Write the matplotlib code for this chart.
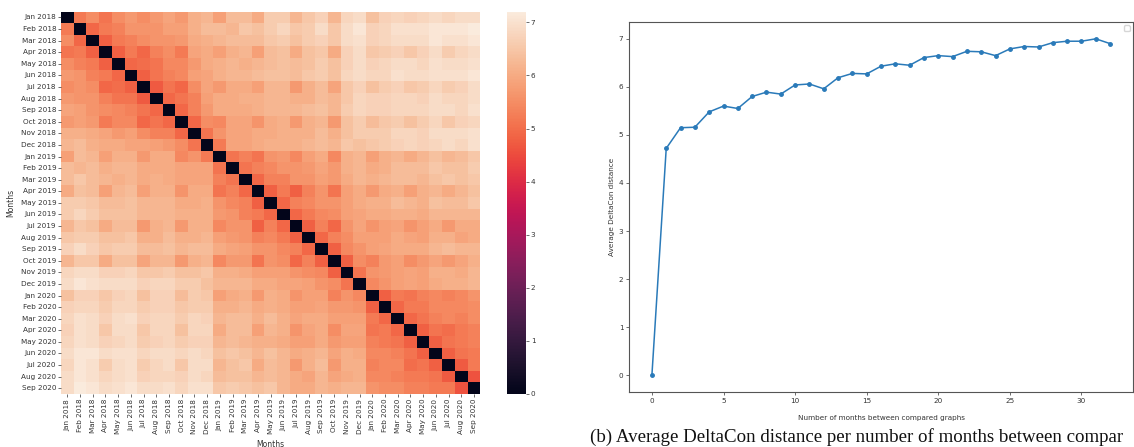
import numpy as np
import matplotlib
matplotlib.use("Agg")
import matplotlib.pyplot as plt
import seaborn as sns

months = ["Jan 2018", "Feb 2018", "Mar 2018", "Apr 2018", "May 2018", "Jun 2018",
          "Jul 2018", "Aug 2018", "Sep 2018", "Oct 2018", "Nov 2018", "Dec 2018",
          "Jan 2019", "Feb 2019", "Mar 2019", "Apr 2019", "May 2019", "Jun 2019",
          "Jul 2019", "Aug 2019", "Sep 2019", "Oct 2019", "Nov 2019", "Dec 2019",
          "Jan 2020", "Feb 2020", "Mar 2020", "Apr 2020", "May 2020", "Jun 2020",
          "Jul 2020", "Aug 2020", "Sep 2020"]

# lower triangle of the DeltaCon distance matrix (row i, columns 0..i-1)
lower = [
    [],
    [5.2],
    [5.5, 4.9],
    [5.1, 5.2, 4.8],
    [5.5, 5.3, 5.2, 4.8],
    [5.7, 5.6, 5.3, 5.2, 4.9],
    [5.5, 5.6, 5.5, 4.9, 5.0, 4.8],
    [5.7, 5.6, 5.6, 5.3, 5.1, 5.1, 4.7],
    [5.9, 5.8, 5.6, 5.5, 5.4, 5.3, 5.1, 4.9],
    [5.7, 5.8, 5.7, 5.2, 5.4, 5.4, 4.9, 5.1, 4.9],
    [6.1, 6.1, 6.0, 5.9, 5.7, 5.8, 5.5, 5.3, 5.3, 4.9],
    [6.2, 6.3, 6.1, 6.0, 6.0, 5.9, 5.9, 5.8, 5.7, 5.5, 5.1],
    [5.8, 6.3, 6.2, 5.8, 6.1, 6.1, 5.7, 6.0, 6.0, 5.4, 5.6, 5.2],
    [6.3, 6.2, 6.3, 6.1, 6.2, 6.2, 6.0, 6.0, 6.0, 5.9, 5.9, 5.9, 5.1],
    [6.3, 6.5, 6.3, 6.2, 6.1, 6.2, 6.0, 6.1, 6.0, 5.9, 5.9, 5.9, 5.3, 5.1],
    [6.0, 6.4, 6.3, 5.8, 6.2, 6.3, 5.8, 6.1, 6.1, 5.6, 6.0, 6.0, 5.1, 5.3, 4.9],
    [6.6, 6.6, 6.5, 6.3, 6.3, 6.4, 6.2, 6.2, 6.2, 6.0, 6.0, 6.1, 5.6, 5.4, 5.3, 4.8],
    [6.6, 6.8, 6.6, 6.4, 6.4, 6.4, 6.2, 6.2, 6.2, 6.1, 6.1, 6.1, 5.7, 5.6, 5.3, 5.2, 4.9],
    [6.2, 6.5, 6.4, 6.0, 6.3, 6.3, 5.7, 6.1, 6.2, 5.7, 6.1, 6.1, 5.4, 5.6, 5.6, 4.8, 5.3,
     4.9],
    [6.5, 6.6, 6.6, 6.4, 6.4, 6.5, 6.1, 6.1, 6.3, 6.1, 6.1, 6.2, 5.8, 5.7, 5.6, 5.3, 5.4,
     5.2, 4.8],
    [6.7, 6.9, 6.7, 6.5, 6.6, 6.6, 6.3, 6.3, 6.4, 6.2, 6.3, 6.3, 6.0, 5.9, 5.8, 5.6, 5.6,
     5.4, 5.3, 4.9],
    [6.2, 6.5, 6.5, 6.0, 6.4, 6.4, 5.9, 6.2, 6.2, 5.7, 6.1, 6.2, 5.4, 5.7, 5.7, 5.1, 5.6,
     5.5, 4.9, 5.3, 4.8],
    [6.8, 6.9, 6.9, 6.7, 6.7, 6.8, 6.5, 6.5, 6.6, 6.4, 6.4, 6.5, 6.1, 6.1, 6.0, 5.8, 5.8,
     5.8, 5.6, 5.5, 5.4, 4.8],
    [6.9, 7.1, 7.0, 6.9, 6.9, 6.9, 6.7, 6.8, 6.8, 6.6, 6.6, 6.4, 6.2, 6.2, 6.2, 6.0, 6.0,
     5.9, 5.9, 5.8, 5.6, 5.5, 5.1],
    [6.4, 6.7, 6.7, 6.5, 6.7, 6.8, 6.4, 6.7, 6.7, 6.3, 6.6, 6.5, 5.8, 6.0, 6.1, 5.7, 6.1,
     6.0, 5.6, 5.8, 5.8, 5.3, 5.6, 5.4],
    [6.7, 6.8, 6.8, 6.6, 6.8, 6.8, 6.6, 6.7, 6.7, 6.5, 6.6, 6.6, 6.1, 6.1, 6.2, 6.0, 6.1,
     6.0, 5.8, 5.8, 5.9, 5.7, 5.7, 5.6, 4.8],
    [6.8, 7.0, 6.9, 6.7, 6.9, 7.0, 6.7, 6.8, 6.8, 6.6, 6.8, 6.7, 6.2, 6.3, 6.3, 6.1, 6.3,
     6.1, 5.9, 6.0, 6.0, 5.8, 5.8, 5.8, 5.2, 4.9],
    [6.7, 7.0, 6.9, 6.5, 6.9, 6.9, 6.5, 6.8, 6.8, 6.4, 6.8, 6.8, 6.0, 6.3, 6.3, 5.8, 6.2,
     6.1, 5.6, 5.9, 6.0, 5.5, 5.9, 5.9, 5.1, 5.2, 4.9],
    [6.8, 7.0, 6.9, 6.7, 6.8, 6.9, 6.6, 6.7, 6.8, 6.6, 6.7, 6.7, 6.2, 6.3, 6.2, 6.1, 6.1,
     6.0, 5.8, 5.8, 6.0, 5.7, 5.8, 5.8, 5.3, 5.2, 5.1, 4.8],
    [6.9, 7.1, 7.1, 6.9, 7.0, 7.0, 6.8, 6.9, 6.9, 6.8, 6.9, 6.8, 6.4, 6.5, 6.4, 6.2, 6.4,
     6.2, 6.0, 6.1, 6.2, 5.9, 6.1, 6.0, 5.4, 5.4, 5.3, 5.1, 4.8],
    [6.8, 7.1, 7.0, 6.6, 6.9, 7.0, 6.6, 6.8, 6.9, 6.5, 6.9, 6.9, 6.2, 6.4, 6.5, 6.0, 6.3,
     6.2, 5.7, 6.1, 6.3, 5.7, 6.1, 6.1, 5.3, 5.4, 5.4, 5.0, 5.1, 4.8],
    [6.9, 7.1, 7.0, 6.8, 6.9, 7.0, 6.7, 6.8, 6.8, 6.7, 6.9, 6.8, 6.3, 6.4, 6.4, 6.2, 6.3,
     6.2, 6.0, 5.9, 6.2, 5.9, 6.0, 6.1, 5.4, 5.4, 5.3, 5.2, 5.2, 5.1, 4.7],
    [6.9, 7.2, 7.1, 6.9, 7.0, 7.1, 6.9, 6.9, 7.0, 6.8, 7.0, 7.0, 6.5, 6.6, 6.5, 6.4, 6.5,
     6.2, 6.0, 6.0, 6.2, 6.1, 6.2, 6.2, 5.6, 5.5, 5.5, 5.3, 5.3, 5.2, 5.2, 4.6],
]

lags = list(range(33))
avg_distance = [0.0, 4.72, 5.15, 5.16, 5.48, 5.60, 5.55, 5.80, 5.89, 5.85, 6.04,
                6.06, 5.96, 6.19, 6.28, 6.27, 6.43, 6.48, 6.45, 6.61, 6.65, 6.63,
                6.74, 6.73, 6.65, 6.79, 6.84, 6.83, 6.92, 6.95, 6.95, 7.00, 6.90]

caption = "(b) Average DeltaCon distance per number of months between compar"

n = len(months)
mat = np.zeros((n, n))
for i, row in enumerate(lower):
    for j, v in enumerate(row):
        mat[i, j] = v
        mat[j, i] = v

plt.rcParams['font.family'] = ['DejaVu Sans']
fig = plt.figure(figsize=(11.34, 4.47), dpi=100)

W, H = 1134, 447
def box(x0, y0, x1, y1):
    return [x0 / W, 1 - y1 / H, (x1 - x0) / W, (y1 - y0) / H]

ax1 = fig.add_axes(box(61, 11.7, 480.3, 394))
cax = fig.add_axes(box(507, 11.7, 526, 394))
sns.heatmap(mat, ax=ax1, cbar_ax=cax, cmap="rocket",
            xticklabels=months, yticklabels=months)
ax1.set_xlabel("Months", fontsize=5.5, color="#333333")
ax1.set_ylabel("Months", fontsize=5.5, color="#333333")
ax1.tick_params(axis='both', labelsize=5.2, length=2, width=0.5, colors="#333333",
                pad=1.5)
ax1.tick_params(axis='x', labelrotation=90)
ax1.tick_params(axis='y', labelrotation=0)
cax.tick_params(labelsize=5.2, length=2, width=0.5, colors="#333333", pad=1.5)

ax2 = fig.add_axes(box(629, 22, 1133, 392))
ax2.plot(lags, avg_distance, marker='o', markersize=2.5, linewidth=1.1,
         color="#2a7ab9")
ax2.set_xlabel("Number of months between compared graphs", fontsize=5.2,
               color="#333333", labelpad=8)
ax2.set_ylabel("Average DeltaCon distance", fontsize=5.2, color="#333333", labelpad=3)
ax2.tick_params(labelsize=5.2, length=2, width=0.5, colors="#333333", pad=2)
for s in ax2.spines.values():
    s.set_linewidth(0.8)
    s.set_color("#555555")
ax2.set_xticks([0, 5, 10, 15, 20, 25, 30])
ax2.legend(handles=[], loc='upper right', fontsize=5, borderpad=0.4)

fig.text(590 / W, 1.5 / H, caption,
         family="Liberation Serif", fontsize=13.6, va="bottom", ha="left",
         color="#111111")

fig.savefig("out.png", dpi=100)
